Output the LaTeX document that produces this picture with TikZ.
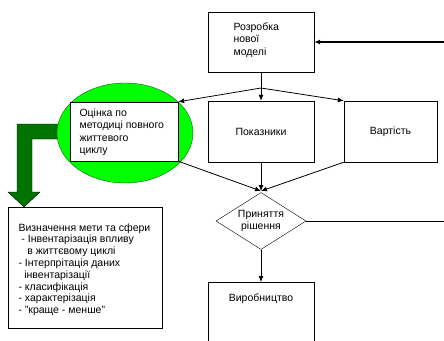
\documentclass[tikz,border=0pt]{standalone}
\usepackage{fontspec}
\setmainfont{Liberation Sans}
\usetikzlibrary{arrows.meta, shapes.geometric}

\begin{document}
\begin{tikzpicture}[x=1pt, y=-1pt, font=\fontsize{10.5}{12.5}\selectfont,
    box/.style={draw, thin, fill=white, inner sep=0pt},
    flow/.style={thick, -{Latex[length=6pt, width=5pt]}}]
  \useasboundingbox (0,0) rectangle (444,340);

  % Green arrow to the list of stages
  \fill[green!45!black, draw=black, thin] (66,124) -- (17,124) -- (17,192) -- (8,192)
        -- (24,207) -- (40,192) -- (32,192) -- (32,139) -- (66,139) -- cycle;

  % Life-cycle assessment (ellipse with box on it)
  \draw[fill=green, draw=green!40!black, thin] (125,133) ellipse (68 and 50);
  \node[box, minimum width=108pt, minimum height=59pt] (ocin) at (124,131.5) {};
  \node[align=left, anchor=north west] (ocintxt) at (76,105)
        {Оцінка по\\методиці повного\\життевого\\циклу};

  % Main boxes
  \node[box, minimum width=106pt, minimum height=60pt] (top) at (261,42) {};
  \node[align=left, anchor=north west] (toptxt) at (230,19) {Розробка\\нової\\моделі};
  \node[box, minimum width=106pt, minimum height=61pt] (pok) at (261,131.5) {Показники};
  \node[box, minimum width=93pt, minimum height=61pt] (vart) at (390.5,131.5) {Вартість};
  \node[draw, diamond, thin, aspect=1.6, minimum width=90pt, minimum height=57pt,
        inner sep=0pt, align=center] (dec) at (261,221) {Приняття\\рішення};
  \node[box, minimum width=106pt, minimum height=80pt, anchor=north,
        text depth=50pt] (prod) at (261,282) {Виробництво};

  % Stages of the assessment
  \node[box, minimum width=154pt, minimum height=121pt, anchor=north west] (stages) at (8,207) {};
  \node[align=left, anchor=north west, font=\fontsize{10.5}{11.8}\selectfont] (stagestxt) at (15,220)
        {Визначення мети та сфери\\
         \ - Інвентарізація впливу\\
         \ \ \ в життєвому циклі\\
         - Інтерпрітація даних\\
         \ \ інвентарізації\\
         - класифікація\\
         - характерізація\\
         - "краще - менше"};

  % Splitting and merging connectors
  \coordinate (split) at (261,88);
  \draw[flow] (top.south) -- (pok.north);
  \draw[flow] (split) -- (ocin.north east);
  \draw[flow] (split) -- (vart.north west);
  \coordinate (merge) at (261,191);
  \draw[flow] (ocin.south east) -- (merge);
  \draw[flow] (pok.south) -- (merge);
  \draw[flow] (vart.south west) -- (merge);
  \draw[flow] (dec.south) -- (prod.north);

  % Feedback loop (leaves the picture)
  \coordinate (fbout) at (450,221);
  \coordinate (fbin) at (450,42);
  \draw[thin] (dec.east) -- (fbout);
  \draw[flow, line width=1.4pt] (fbin) -- (top.east);
\end{tikzpicture}
\end{document}
